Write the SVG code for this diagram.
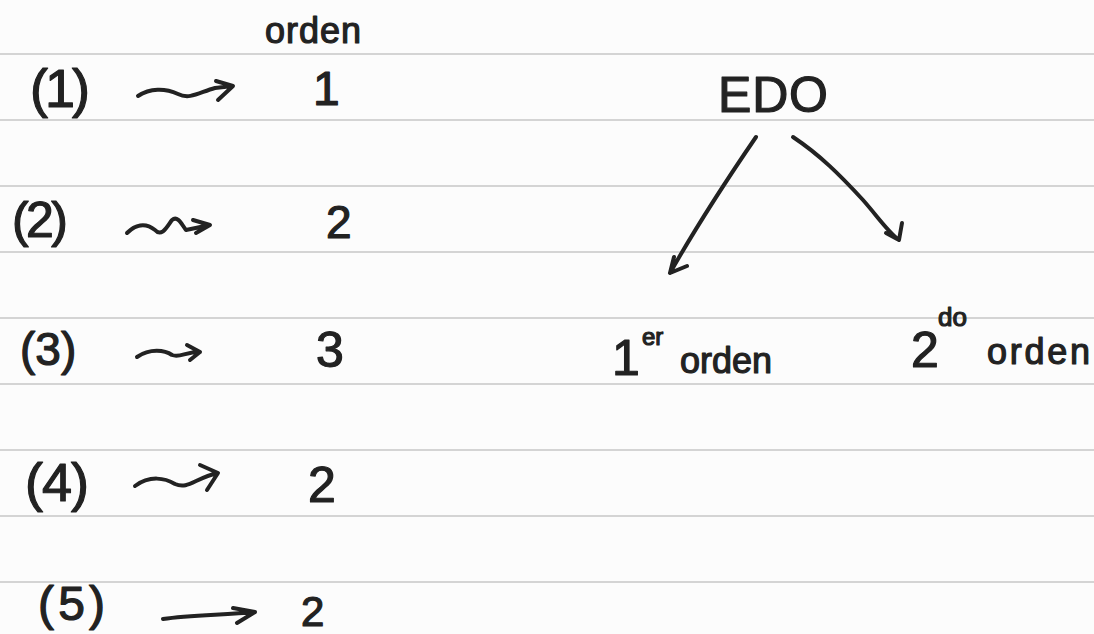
<svg xmlns="http://www.w3.org/2000/svg" width="1094" height="634" viewBox="0 0 1094 634">
<style>
.rule{stroke:#d4d4d4;stroke-width:2}
.ink{fill:none;stroke:#222;stroke-width:4;stroke-linecap:round;stroke-linejoin:round}
text{font-family:"Liberation Sans","DejaVu Sans",sans-serif;fill:#222;stroke:#222;stroke-width:1.2;stroke-linejoin:round}
</style>
<rect width="1094" height="634" fill="#fcfcfc"/>
<g id="rules">
<line class="rule" x1="0" y1="54" x2="1094" y2="54"/>
<line class="rule" x1="0" y1="120" x2="1094" y2="120"/>
<line class="rule" x1="0" y1="186" x2="1094" y2="186"/>
<line class="rule" x1="0" y1="252" x2="1094" y2="252"/>
<line class="rule" x1="0" y1="318" x2="1094" y2="318"/>
<line class="rule" x1="0" y1="384" x2="1094" y2="384"/>
<line class="rule" x1="0" y1="450" x2="1094" y2="450"/>
<line class="rule" x1="0" y1="516" x2="1094" y2="516"/>
<line class="rule" x1="0" y1="582" x2="1094" y2="582"/>
</g>
<g id="header"><text x="265" y="43" font-size="36" textLength="96">orden</text></g>
<g id="row1"><text x="30" y="107" font-size="54" textLength="60">(1)</text><text x="313" y="105" font-size="48">1</text></g>
<g id="row2"><text x="12" y="237" font-size="50" textLength="56">(2)</text><text x="326" y="238" font-size="46">2</text></g>
<g id="row3"><text x="20" y="365" font-size="46">(3)</text><text x="316" y="367" font-size="50">3</text></g>
<g id="row4"><text x="25" y="501" font-size="54" textLength="64">(4)</text><text x="308" y="502" font-size="50">2</text></g>
<g id="row5"><text x="38" y="620" font-size="48" textLength="67">(5)</text><text x="301" y="626" font-size="42">2</text></g>
<g id="edo"><text x="718" y="112" font-size="50" textLength="110">EDO</text></g>
<g id="primer"><text x="612" y="375" font-size="50">1</text><text x="642" y="345" font-size="24">er</text><text x="680" y="373" font-size="36" textLength="92">orden</text></g>
<g id="segundo"><text x="911" y="367" font-size="50">2</text><text x="938" y="326" font-size="26">do</text><text x="987" y="364" font-size="36" textLength="103">orden</text></g>
<g id="connectors">
<path class="ink" d="M138,96 C150,88 165,88 178,94 C190,100 200,92 215,88 L233,86 M216,81 L233,86 L218,100"/>
<path class="ink" d="M127,233 C135,225 145,222 155,230 C162,238 168,225 172,220 C178,215 182,225 186,230 L210,225 M193,220 L210,225 L196,233"/>
<path class="ink" d="M137,357 C150,348 165,350 172,355 C180,358 185,352 200,352 M187,345 L200,352 L190,360"/>
<path class="ink" d="M135,486 C150,475 165,478 175,484 C188,490 195,478 218,473 M200,465 L218,473 L207,490"/>
<path class="ink" d="M163,619 C190,615 225,615 255,612 M233,608 L255,612 L237,623"/>
<path class="ink" d="M756,137 C730,175 700,220 670,273 M674,257 L670,273 L687,266"/>
<path class="ink" d="M793,137 C820,155 840,175 863,200 C878,217 888,232 899,240 M902,223 L899,240 L886,233"/>
</g>
</svg>
